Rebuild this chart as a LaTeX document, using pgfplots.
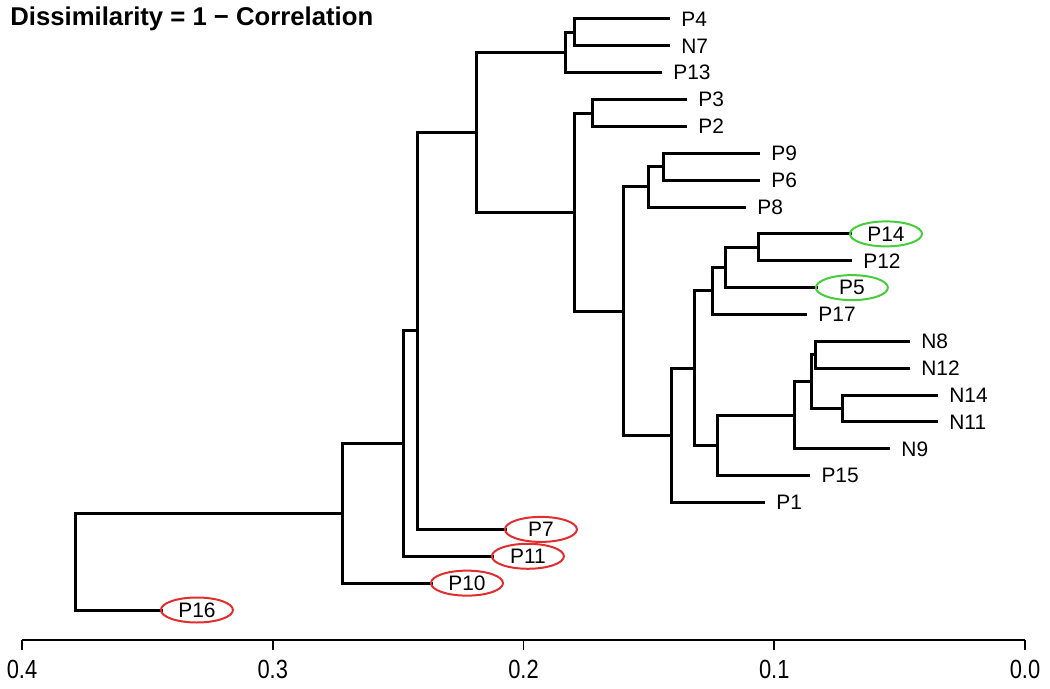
\documentclass[border=0pt]{standalone}
\usepackage{fontspec}
\setmainfont{Liberation Sans}
\usepackage{pgfplots}
\pgfplotsset{compat=1.18}
\usetikzlibrary{shapes.geometric}
\definecolor{ellred}{RGB}{225,45,45}
\definecolor{ellgreen}{RGB}{70,205,60}
\begin{document}
\begin{tikzpicture}[
  lab/.style={anchor=west, inner sep=0pt, xshift=5.5bp, font=\fontsize{10.5}{12}\selectfont},
  ell/.style={ellipse, draw, line width=1bp, minimum width=36bp, minimum height=12.5bp, inner sep=0pt, anchor=west, xshift=-1.5bp, font=\fontsize{10.5}{12}\selectfont}
]
\begin{axis}[
  name=ax, at={(0,0)}, anchor=south west,
  scale only axis, width=501.5bp, height=320bp,
  xmin=0, xmax=0.4, x dir=reverse,
  ymin=-0.117, ymax=23.707,
  axis x line*=bottom, axis y line=none,
  x axis line style={-, line width=0.9bp},
  xtick={0,0.1,0.2,0.3,0.4},
  tick align=outside, major tick length=5bp,
  xtick style={line width=0.9bp, black},
  /pgf/number format/assume math mode=true,
  xticklabel style={font=\fontsize{11}{13}\selectfont, yscale=1.2, yshift=-0.5bp, /pgf/number format/.cd, fixed, fixed zerofill, precision=1},
  clip=false,
  tree/.style={black, line width=1.5bp, line join=miter, no marks},
]
% A: P4/N7
\addplot[tree] coordinates {(0.1416,23) (0.1795,23) (0.1795,22) (0.1416,22)};
% B: A/P13
\addplot[tree] coordinates {(0.1795,22.5) (0.1831,22.5) (0.1831,21) (0.1448,21)};
% C: P3/P2
\addplot[tree] coordinates {(0.1348,20) (0.1723,20) (0.1723,19) (0.1348,19)};
% D: P9/P6
\addplot[tree] coordinates {(0.1057,18) (0.1440,18) (0.1440,17) (0.1057,17)};
% E: D/P8
\addplot[tree] coordinates {(0.1440,17.5) (0.1500,17.5) (0.1500,16) (0.1113,16)};
% F: P14/P12
\addplot[tree] coordinates {(0.0690,15) (0.1061,15) (0.1061,14) (0.0690,14)};
% G: F/P5
\addplot[tree] coordinates {(0.1061,14.5) (0.1196,14.5) (0.1196,13) (0.0826,13)};
% H: G/P17
\addplot[tree] coordinates {(0.1196,13.75) (0.1248,13.75) (0.1248,12) (0.0869,12)};
% I: N8/N12
\addplot[tree] coordinates {(0.0459,11) (0.0837,11) (0.0837,10) (0.0459,10)};
% J: N14/N11
\addplot[tree] coordinates {(0.0347,9) (0.0726,9) (0.0726,8) (0.0347,8)};
% K: I/J
\addplot[tree] coordinates {(0.0837,10.5) (0.0853,10.5) (0.0853,8.5) (0.0726,8.5)};
% L: K/N9
\addplot[tree] coordinates {(0.0853,9.5) (0.0921,9.5) (0.0921,7) (0.0538,7)};
% M: L/P15
\addplot[tree] coordinates {(0.0921,8.25) (0.1228,8.25) (0.1228,6) (0.0857,6)};
% N: H/M
\addplot[tree] coordinates {(0.1248,12.875) (0.1320,12.875) (0.1320,7.125) (0.1228,7.125)};
% O: N/P1
\addplot[tree] coordinates {(0.1320,10) (0.1408,10) (0.1408,5) (0.1037,5)};
% Q: E/O
\addplot[tree] coordinates {(0.1500,16.75) (0.1603,16.75) (0.1603,7.5) (0.1408,7.5)};
% R: C/Q
\addplot[tree] coordinates {(0.1723,19.5) (0.1795,19.5) (0.1795,12.125) (0.1603,12.125)};
% S: B/R
\addplot[tree] coordinates {(0.1831,21.75) (0.2189,21.75) (0.2189,15.8125) (0.1795,15.8125)};
% T: S/P7
\addplot[tree] coordinates {(0.2189,18.78125) (0.2421,18.78125) (0.2421,4) (0.2066,4)};
% U: T/P11
\addplot[tree] coordinates {(0.2421,11.390625) (0.2477,11.390625) (0.2477,3) (0.2118,3)};
% V: U/P10
\addplot[tree] coordinates {(0.2477,7.1953) (0.2720,7.1953) (0.2720,2) (0.2361,2)};
% W: V/P16
\addplot[tree] coordinates {(0.2720,4.5977) (0.3785,4.5977) (0.3785,1) (0.3438,1)};

% leaf labels
\node[lab] at (axis cs:0.1416,23) {P4};
\node[lab] at (axis cs:0.1416,22) {N7};
\node[lab] at (axis cs:0.1448,21) {P13};
\node[lab] at (axis cs:0.1348,20) {P3};
\node[lab] at (axis cs:0.1348,19) {P2};
\node[lab] at (axis cs:0.1057,18) {P9};
\node[lab] at (axis cs:0.1057,17) {P6};
\node[lab] at (axis cs:0.1113,16) {P8};
\node[ell, draw=ellgreen] at (axis cs:0.0690,15) {P14};
\node[lab] at (axis cs:0.0690,14) {P12};
\node[ell, draw=ellgreen] at (axis cs:0.0826,13) {P5};
\node[lab] at (axis cs:0.0869,12) {P17};
\node[lab] at (axis cs:0.0459,11) {N8};
\node[lab] at (axis cs:0.0459,10) {N12};
\node[lab] at (axis cs:0.0347,9) {N14};
\node[lab] at (axis cs:0.0347,8) {N11};
\node[lab] at (axis cs:0.0538,7) {N9};
\node[lab] at (axis cs:0.0857,6) {P15};
\node[lab] at (axis cs:0.1037,5) {P1};
\node[ell, draw=ellred] at (axis cs:0.2066,4) {P7};
\node[ell, draw=ellred] at (axis cs:0.2118,3) {P11};
\node[ell, draw=ellred] at (axis cs:0.2361,2) {P10};
\node[ell, draw=ellred] at (axis cs:0.3438,1) {P16};
\end{axis}
\node[anchor=west, inner sep=0pt, font=\bfseries\fontsize{12.9}{15}\selectfont] at ([xshift=-6bp, yshift=-9.3bp]ax.north west) {Dissimilarity = 1 − Correlation};
\pgfresetboundingbox
\path ([xshift=-11bp, yshift=-24bp]ax.south west) rectangle ([xshift=12.5bp]ax.north east);
\end{tikzpicture}
\end{document}
